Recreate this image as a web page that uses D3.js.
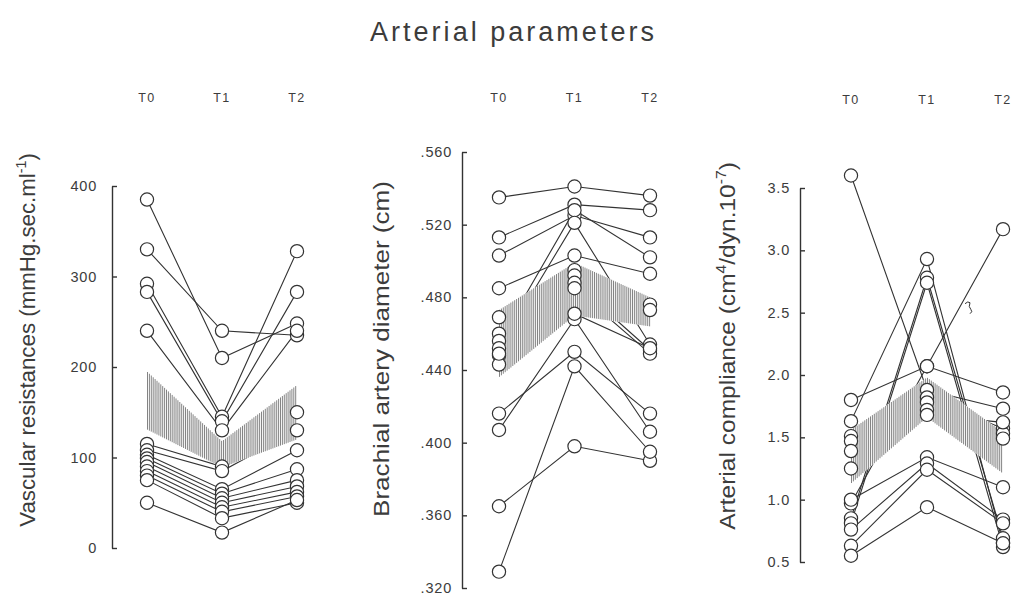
<!DOCTYPE html>
<html><head><meta charset="utf-8">
<script src="https://cdn.jsdelivr.net/npm/d3@7"></script>
<style>body{margin:0;background:#fff}svg{display:block}</style>
</head><body>
<svg id="c" width="1015" height="597"></svg>
<script>
// ---------- data ----------
const times = ["T0", "T1", "T2"];

const resistanceSubjects = [
  [385, 210, 248], [330, 240, 235], [292, 145, 328], [283, 140, 283],
  [240, 130, 240], [115, 90, 150], [108, 85, 130], [103, 65, 108],
  [99, 60, 87], [95, 55, 75], [90, 50, 68], [85, 45, 62],
  [80, 40, 57], [75, 33, 50], [50, 17, 53]
];
const resistanceBandTop = [195, 118, 180];
const resistanceBandBottom = [131, 89, 120];
const resistanceTicks = [0, 100, 200, 300, 400];

const diameterSubjects = [
  [0.535, 0.541, 0.536], [0.513, 0.531, 0.528], [0.503, 0.525, 0.513],
  [0.485, 0.503, 0.493], [0.469, 0.495, 0.476], [0.460, 0.492, 0.473],
  [0.456, 0.528, 0.502], [0.452, 0.521, 0.454], [0.448, 0.488, 0.451],
  [0.443, 0.485, 0.449], [0.416, 0.450, 0.416], [0.407, 0.468, 0.406],
  [0.449, 0.471, 0.452], [0.365, 0.398, 0.390], [0.329, 0.442, 0.395]
];
const diameterBandTop = [0.473, 0.499, 0.480];
const diameterBandBottom = [0.436, 0.470, 0.464];
const diameterTicks = [0.32, 0.36, 0.40, 0.44, 0.48, 0.52, 0.56];

const complianceSubjects = [
  [3.60, 1.88, 1.73], [1.80, 2.07, 1.86], [0.97, 2.07, 3.17],
  [1.63, 2.93, 0.65], [0.85, 2.78, 0.69], [0.81, 2.74, 0.62],
  [1.51, 1.82, 1.57], [1.47, 1.78, 1.53], [1.39, 1.72, 1.49],
  [1.25, 1.68, 1.62], [1.00, 1.34, 1.10], [0.76, 1.29, 0.84],
  [0.63, 1.24, 0.81], [0.55, 0.94, 0.65]
];
const complianceBandTop = [1.56, 1.98, 1.54];
const complianceBandBottom = [1.13, 1.66, 1.21];
const complianceTicks = [0.5, 1.0, 1.5, 2.0, 2.5, 3.0, 3.5];

// ---------- drawing ----------
const svg = d3.select("#c");
const INK = "#333";
const TXT = "#3c3c3c";
const FONT = "'Liberation Sans', Arial, Helvetica, sans-serif";

svg.append("text")
  .attr("x", 512).attr("y", 41)
  .attr("text-anchor", "middle")
  .attr("font-family", FONT).attr("font-size", 27)
  .attr("fill", TXT)
  .attr("textLength", 284).attr("lengthAdjust", "spacing")
  .text("Arterial parameters");

const panels = [
  { subjects: resistanceSubjects, top: resistanceBandTop, bottom: resistanceBandBottom,
    ticks: resistanceTicks, domain: [0, 400], yRange: [548, 186], xRange: [147, 297],
    axisX: 112, pad: 15, fmt: d3.format("d"), headY: 102,
    label: [["Vascular resistances (mmHg.sec.ml", false], ["-1", true], [")", false]],
    labelX: 35, labelY: 340, labelLen: 374 },
  { subjects: diameterSubjects, top: diameterBandTop, bottom: diameterBandBottom,
    ticks: diameterTicks, domain: [0.32, 0.56], yRange: [588, 152], xRange: [499, 650],
    axisX: 462, pad: 10, fmt: v => d3.format(".3f")(v).replace(/^0/, ""), headY: 102,
    label: [["Brachial artery diameter (cm)", false]],
    labelX: 389, labelY: 349, labelLen: 336 },
  { subjects: complianceSubjects, top: complianceBandTop, bottom: complianceBandBottom,
    ticks: complianceTicks, domain: [0.5, 3.5], yRange: [562, 188], xRange: [851, 1003],
    axisX: 800, pad: 10, fmt: d3.format(".1f"), headY: 104,
    label: [["Arterial compliance (cm", false], ["4", true], ["/dyn.10", false], ["-7", true], [")", false]],
    labelX: 735, labelY: 346, labelLen: 368 }
];

panels.forEach((p, pi) => {
  const x = d3.scalePoint().domain(times).range(p.xRange);
  const y = d3.scaleLinear().domain(p.domain).range(p.yRange);
  const g = svg.append("g");

  // column headers
  g.selectAll("text.head").data(times).join("text")
    .attr("class", "head")
    .attr("x", d => x(d)).attr("y", p.headY)
    .attr("text-anchor", "middle")
    .attr("font-family", FONT).attr("font-size", 12.5)
    .attr("letter-spacing", 1.5)
    .attr("fill", TXT)
    .text(d => d);

  // axis
  const ax = d3.axisLeft(y).tickValues(p.ticks).tickFormat(p.fmt)
    .tickSizeInner(-5).tickSizeOuter(0).tickPadding(p.pad);
  const ag = g.append("g").attr("transform", `translate(${p.axisX},0)`).call(ax);
  ag.select(".domain").attr("stroke", INK).attr("stroke-width", 1.4);
  ag.selectAll(".tick line").attr("stroke", INK).attr("stroke-width", 1.4);
  ag.selectAll(".tick text").attr("font-family", FONT).attr("font-size", 14.5)
    .attr("letter-spacing", 0.8).attr("fill", TXT);

  // subject lines
  const line = d3.line().x((d, i) => x(times[i])).y(d => y(d));
  g.selectAll("path.subj").data(p.subjects).join("path")
    .attr("class", "subj")
    .attr("d", line)
    .attr("fill", "none").attr("stroke", INK).attr("stroke-width", 1.1);

  // band (mean ± error) with white fill and vertical hatching
  const bandPts = times.map((t, i) => ({ x: x(t), t: p.top[i], b: p.bottom[i] }));
  const area = d3.area().x(d => d.x).y0(d => y(d.b)).y1(d => y(d.t));
  g.append("path").attr("d", area(bandPts)).attr("fill", "#fff").attr("stroke", "none");
  const xTop = d3.scaleLinear().domain(bandPts.map(d => d.x)).range(p.top);
  const xBot = d3.scaleLinear().domain(bandPts.map(d => d.x)).range(p.bottom);
  const hx = d3.range(p.xRange[0] + 0.5, p.xRange[1], 1.9);
  g.selectAll("line.hatch").data(hx).join("line")
    .attr("class", "hatch")
    .attr("x1", d => d).attr("x2", d => d)
    .attr("y1", d => y(xTop(d))).attr("y2", d => y(xBot(d)))
    .attr("stroke", "#6e6e6e").attr("stroke-width", 0.85);

  // circles
  const pts = [];
  p.subjects.forEach(s => s.forEach((v, i) => pts.push({ t: times[i], v })));
  g.selectAll("circle").data(pts).join("circle")
    .attr("cx", d => x(d.t)).attr("cy", d => y(d.v)).attr("r", 6.6)
    .attr("fill", "#fff").attr("stroke", INK).attr("stroke-width", 1.2);

  // rotated y-label, fitted to the reference length along the text direction
  const lt = g.append("text")
    .attr("text-anchor", "middle")
    .attr("font-family", FONT).attr("font-size", 22)
    .attr("fill", TXT);
  p.label.forEach(([s, sup]) => {
    const ts = lt.append("tspan").text(s);
    if (sup) ts.attr("font-size", 14).attr("dy", -9);
    else if (lt.selectAll("tspan").size() > 1) ts.attr("dy", 9);
  });
  const len = lt.node().getComputedTextLength();
  const k = p.labelLen / len;
  lt.attr("transform", `translate(${p.labelX},${p.labelY}) rotate(-90) scale(${k},1)`);

  // small hand mark on the compliance panel
  if (pi === 2) {
    const s = complianceSubjects[2];
    const mx = (x("T1") + x("T2")) / 2 + 3, my = y((s[1] + s[2]) / 2) + 8;
    g.append("path")
      .attr("d", `M${mx - 3},${my - 2} q3,-3 5,-1 q-2,4 1,7 q2,2 -1,4`)
      .attr("fill", "none").attr("stroke", INK).attr("stroke-width", 1);
  }
});
</script>
</body></html>
